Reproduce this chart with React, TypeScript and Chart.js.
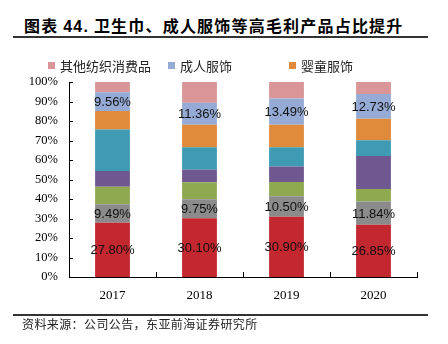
import React, { useEffect, useRef } from "react";
import { Chart, registerables } from "chart.js";

Chart.register(...registerables);

const categories = ["2017", "2018", "2019", "2020"];
const seriesRed = [27.8, 30.1, 30.9, 26.85];
const seriesGray = [9.49, 9.75, 10.5, 11.84];
const seriesGreen = [9.0, 8.8, 7.3, 6.4];
const seriesPurple = [8.1, 6.4, 8.0, 17.0];
const seriesTeal = [21.2, 11.5, 9.9, 8.1];
const babyApparel = [9.6, 11.5, 11.5, 10.9];
const adultApparel = [9.56, 11.36, 13.49, 12.73];
const otherTextile = [5.25, 10.59, 8.41, 6.18];
const yTicks = [0, 10, 20, 30, 40, 50, 60, 70, 80, 90, 100];

const legendItems = [
  { label: "其他纺织消费品", color: "#D99597", x: 48 },
  { label: "成人服饰", color: "#95ABD5", x: 168 },
  { label: "婴童服饰", color: "#E08A3C", x: 289 },
];

const labeledDatasets = [0, 1, 6];

const axisTicksPlugin = {
  id: "axisTicks",
  afterDraw(chart: any) {
    const { ctx, chartArea, scales } = chart;
    const xs = scales.x;
    const ys = scales.y;
    ctx.save();
    ctx.strokeStyle = "#000";
    ctx.lineWidth = 1;
    ctx.beginPath();
    yTicks.forEach((v) => {
      const y = Math.round(ys.getPixelForValue(v)) + 0.5;
      ctx.moveTo(chartArea.left, y);
      ctx.lineTo(chartArea.left + 4, y);
    });
    for (let i = 0; i <= categories.length; i++) {
      const x = Math.round(xs.getPixelForValue(i - 0.5)) + 0.5;
      ctx.moveTo(x, chartArea.bottom);
      ctx.lineTo(x, chartArea.bottom - 5);
    }
    ctx.stroke();
    ctx.restore();
  },
};

const barLabelsPlugin = {
  id: "barLabels",
  afterDatasetsDraw(chart: any) {
    const { ctx } = chart;
    ctx.save();
    ctx.font = '13px "Liberation Sans", Arial, sans-serif';
    ctx.fillStyle = "#111";
    ctx.textAlign = "center";
    ctx.textBaseline = "middle";
    labeledDatasets.forEach((di) => {
      const meta = chart.getDatasetMeta(di);
      const data = chart.data.datasets[di].data as number[];
      meta.data.forEach((el: any, i: number) => {
        const y = (el.y + el.base) / 2;
        ctx.fillText(data[i].toFixed(2) + "%", el.x, y + 1);
      });
    });
    ctx.restore();
  },
};

const customLegendPlugin = {
  id: "customLegend",
  afterDraw(chart: any) {
    const { ctx } = chart;
    ctx.save();
    ctx.font = '13px "Noto Sans CJK SC", sans-serif';
    ctx.textBaseline = "middle";
    ctx.textAlign = "left";
    legendItems.forEach((it) => {
      ctx.fillStyle = it.color;
      ctx.fillRect(it.x, 62, 7, 7);
      ctx.fillStyle = "#222";
      ctx.fillText(it.label, it.x + 12, 66);
    });
    ctx.restore();
  },
};

export default function App() {
  const ref = useRef<HTMLCanvasElement>(null);

  useEffect(() => {
    if (!ref.current) return;
    const mk = (label: string, data: number[], color: string) => ({
      label,
      data,
      backgroundColor: color,
      borderWidth: 0,
      categoryPercentage: 1,
      barPercentage: 0.4,
    });
    const chart = new Chart(ref.current, {
      type: "bar",
      data: {
        labels: categories,
        datasets: [
          mk("系列1", seriesRed, "#C3272F"),
          mk("系列2", seriesGray, "#8B8B8B"),
          mk("系列3", seriesGreen, "#8EA94F"),
          mk("系列4", seriesPurple, "#6F578F"),
          mk("系列5", seriesTeal, "#3F9AB3"),
          mk("婴童服饰", babyApparel, "#E08A3C"),
          mk("成人服饰", adultApparel, "#95ABD5"),
          mk("其他纺织消费品", otherTextile, "#D99597"),
        ],
      },
      options: {
        animation: false,
        responsive: false,
        maintainAspectRatio: false,
        layout: { padding: { top: 82, right: 31, left: 0, bottom: 0 } },
        plugins: {
          legend: { display: false },
          tooltip: { enabled: false },
          title: { display: false },
        },
        scales: {
          x: {
            stacked: true,
            grid: { display: false, drawTicks: false },
            border: { display: true, color: "#000", width: 1 },
            ticks: {
              color: "#000",
              padding: 11,
              font: { family: '"Liberation Serif", serif', size: 13 },
            },
            afterFit(scale: any) {
              scale.height = 67;
            },
          },
          y: {
            stacked: true,
            min: 0,
            max: 100,
            grid: { display: false, drawTicks: false },
            border: { display: true, color: "#000", width: 1 },
            ticks: {
              stepSize: 10,
              color: "#000",
              padding: 11,
              font: { family: '"Liberation Serif", serif', size: 12.5 },
              callback: (v: any) => v + "%",
            },
            afterFit(scale: any) {
              scale.width = 69;
            },
          },
        },
      },
      plugins: [axisTicksPlugin, barLabelsPlugin, customLegendPlugin],
    });
    return () => chart.destroy();
  }, []);

  return (
    <div
      style={{
        position: "fixed",
        left: 0,
        top: 0,
        width: 448,
        height: 344,
        background: "#fff",
        overflow: "hidden",
      }}
    >
      <div
        style={{
          position: "absolute",
          left: 24,
          top: 13,
          fontFamily: '"Noto Sans CJK SC", sans-serif',
          fontWeight: 700,
          fontSize: 16,
          letterSpacing: 1.2,
          color: "#000",
          whiteSpace: "nowrap",
          lineHeight: "24px",
        }}
      >
        图表 <span style={{ fontFamily: '"Liberation Sans", Arial, sans-serif' }}>44.</span> 卫生巾、成人服饰等高毛利产品占比提升
      </div>
      <div
        style={{
          position: "absolute",
          left: 13,
          top: 36,
          width: 415,
          height: 2,
          background: "#333",
        }}
      />
      <canvas
        ref={ref}
        width={448}
        height={344}
        style={{ position: "absolute", left: 0, top: 0 }}
      />
      <div
        style={{
          position: "absolute",
          left: 13,
          top: 314,
          width: 415,
          height: 2,
          background: "#333",
        }}
      />
      <div
        style={{
          position: "absolute",
          left: 22,
          top: 316,
          fontFamily: '"Noto Sans CJK SC", sans-serif',
          fontSize: 12,
          letterSpacing: 0.4,
          color: "#222",
          whiteSpace: "nowrap",
          lineHeight: "16px",
        }}
      >
        资料来源：公司公告，东亚前海证券研究所
      </div>
    </div>
  );
}
